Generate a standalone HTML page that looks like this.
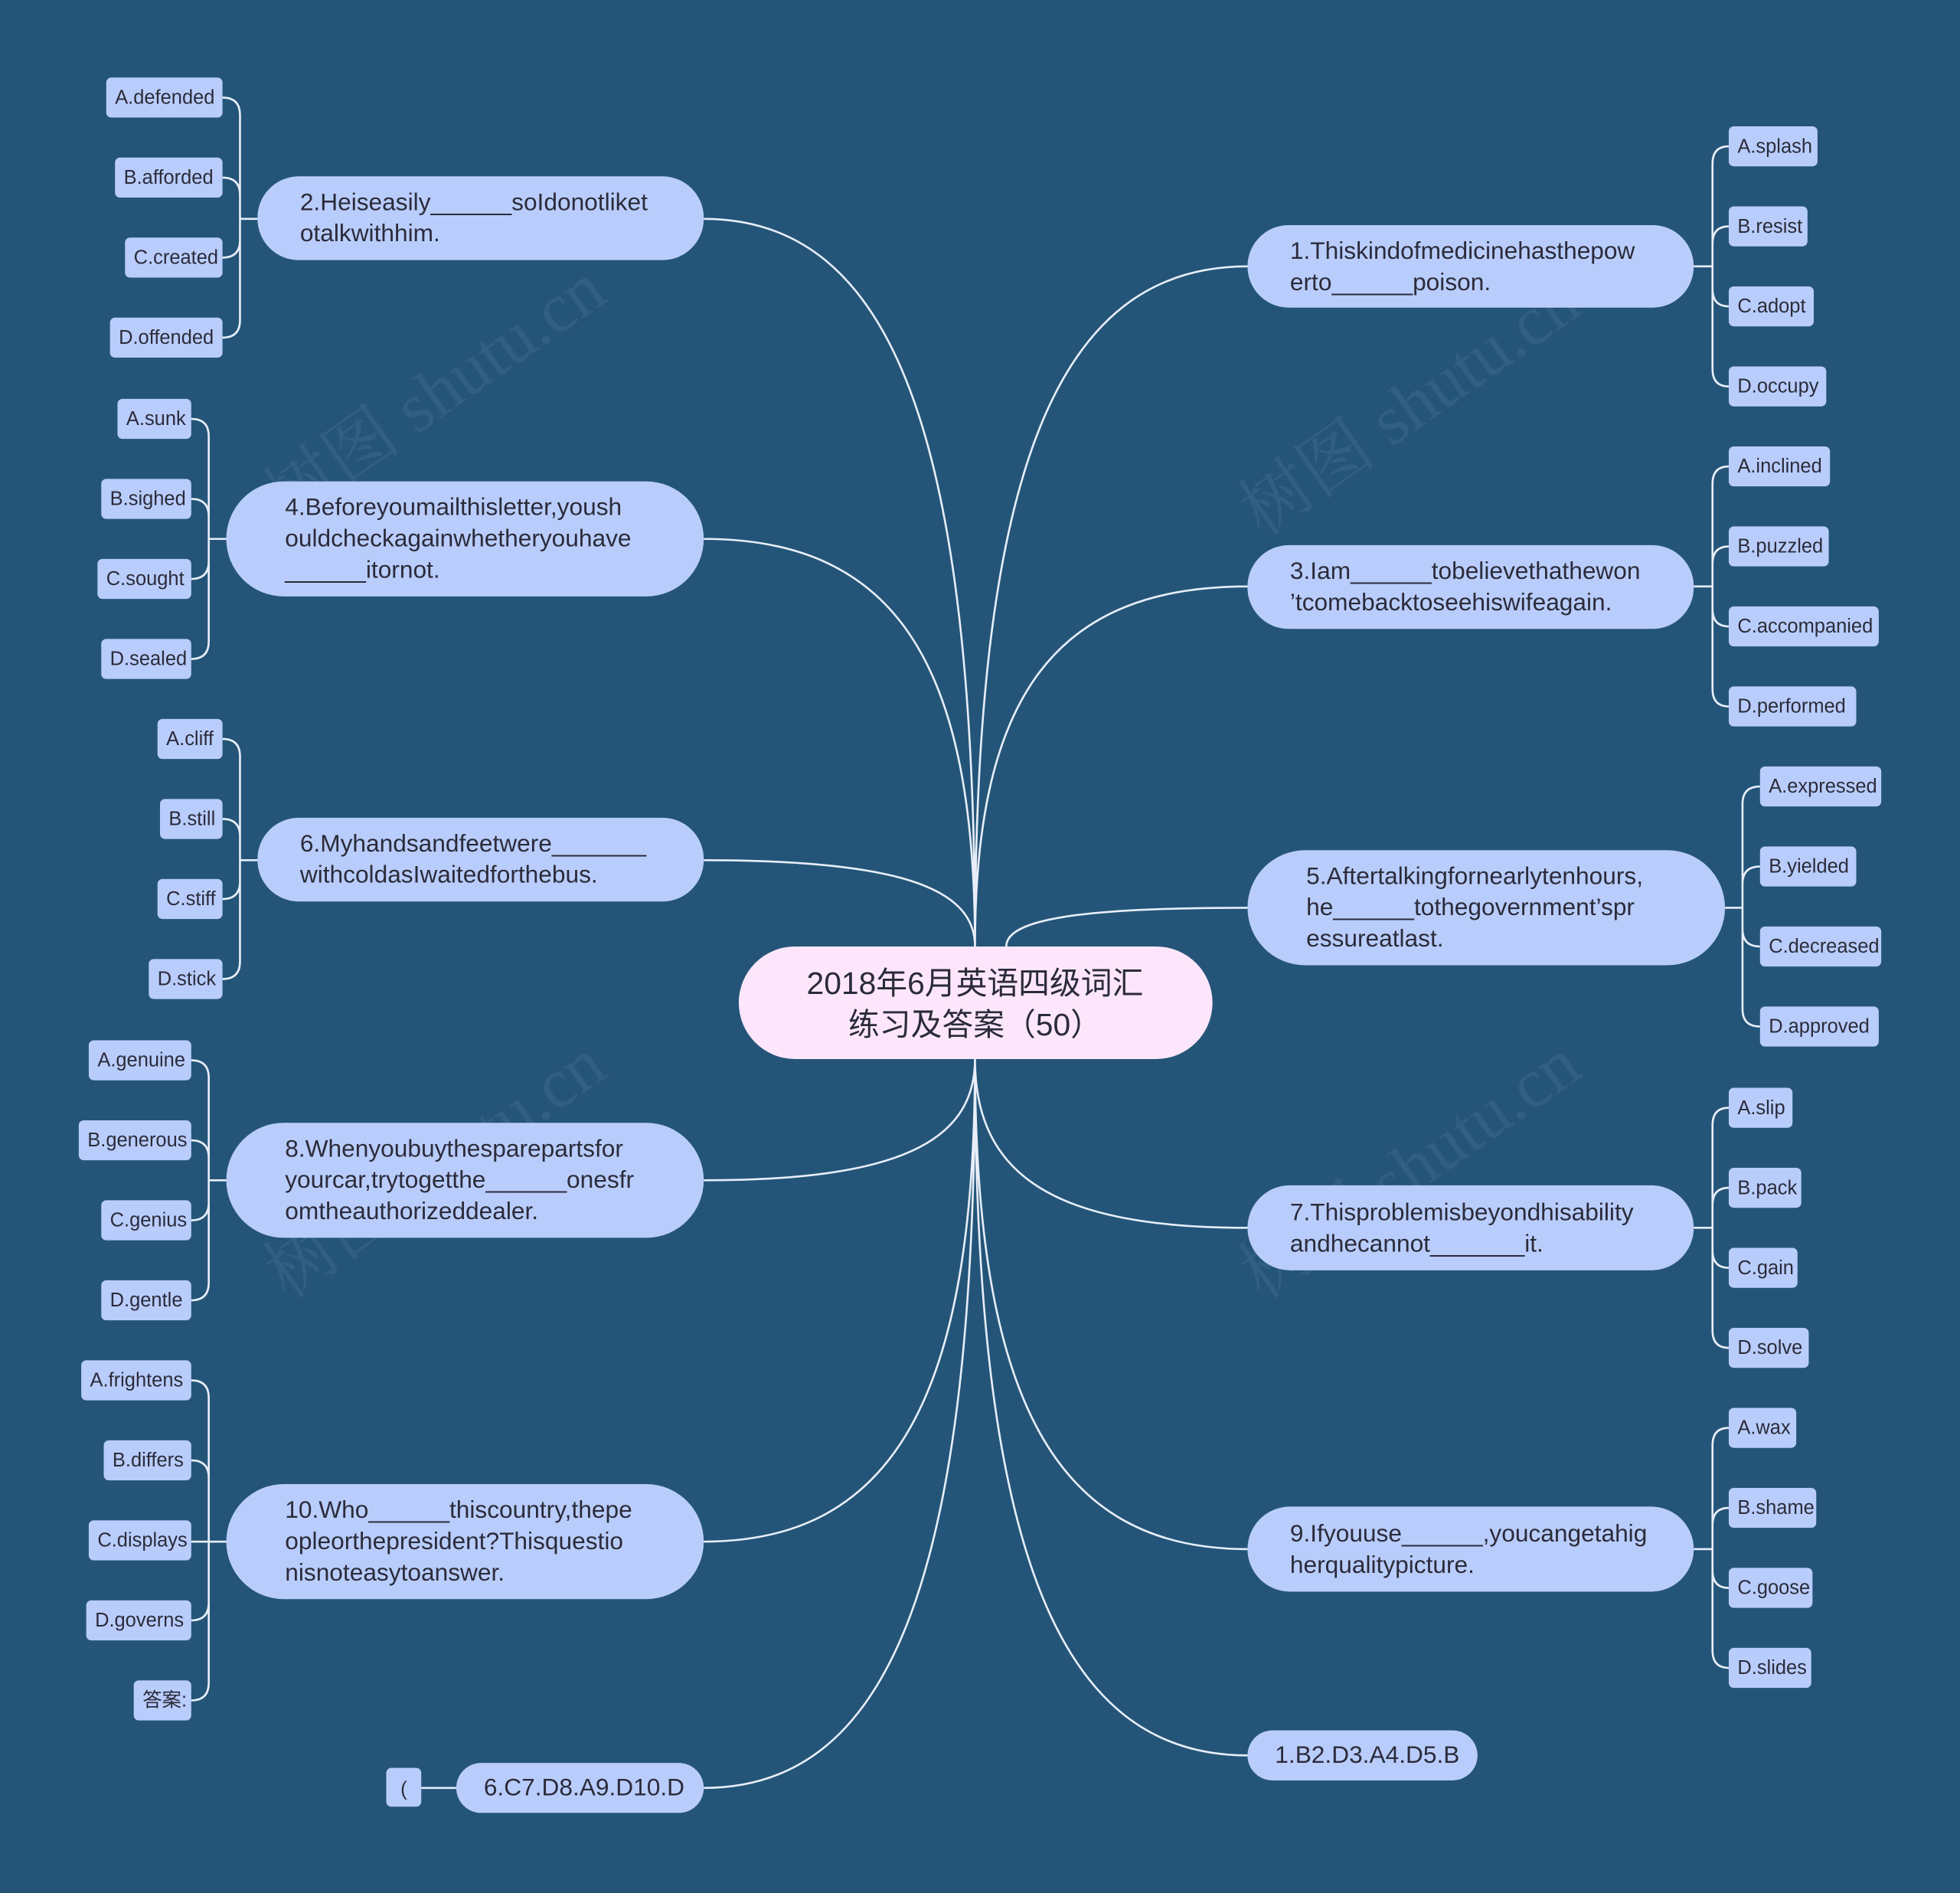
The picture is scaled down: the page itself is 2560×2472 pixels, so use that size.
<!DOCTYPE html>
<html><head><meta charset="utf-8">
<style>
html,body{margin:0;padding:0;background:#245579;}
svg{display:block;}
.leaf{fill:#b9cdfc;}
.lt{font-family:"Liberation Sans","Noto Sans CJK SC",sans-serif;font-size:15.6px;fill:#2b2b3a;}
.br{fill:#b9cdfc;}
.bt{font-family:"Liberation Sans","Noto Sans CJK SC",sans-serif;font-size:19.4px;fill:#2b2b3a;}
.ct{font-family:"Liberation Sans","Noto Sans CJK SC",sans-serif;font-size:25px;fill:#2b2b3a;}
.wm{font-family:"Liberation Serif","Noto Serif CJK SC",serif;font-size:56px;fill:#ffffff;opacity:0.06;}
</style></head>
<body>
<svg id="s" width="2560" height="2472" viewBox="0 0 1568 1514" xmlns="http://www.w3.org/2000/svg">
<rect width="1568" height="1514" fill="#245579"/>
<g id="lines" fill="none" stroke="#e8eef8" stroke-width="1.6"></g>

<text class="wm" transform="translate(230,420) rotate(-35)">树图 shutu.cn</text>
<text class="wm" transform="translate(1010,430) rotate(-35)">树图 shutu.cn</text>
<text class="wm" transform="translate(230,1040) rotate(-35)">树图 shutu.cn</text>
<text class="wm" transform="translate(1010,1040) rotate(-35)">树图 shutu.cn</text>

<rect x="591" y="757" width="379" height="90" rx="45" fill="#fde6fb"/>
<text class="ct" x="780" y="795" text-anchor="middle">2018年6月英语四级词汇</text>
<text class="ct" x="780" y="828" text-anchor="middle">练习及答案（50）</text>

<rect class="br" x="998" y="180" width="357" height="66" rx="33"/>
<text class="bt" x="1032" y="207">1.Thiskindofmedicinehasthepow</text>
<text class="bt" x="1032" y="232">erto______poison.</text>

<rect class="br" x="998" y="436" width="357" height="67" rx="33"/>
<text class="bt" x="1032" y="463">3.Iam______tobelievethathewon</text>
<text class="bt" x="1032" y="488">’tcomebacktoseehiswifeagain.</text>

<rect class="br" x="998" y="680" width="382" height="92" rx="46"/>
<text class="bt" x="1045" y="707">5.Aftertalkingfornearlytenhours,</text>
<text class="bt" x="1045" y="732">he______tothegovernment’spr</text>
<text class="bt" x="1045" y="757">essureatlast.</text>

<rect class="br" x="998" y="948" width="357" height="68" rx="34"/>
<text class="bt" x="1032" y="976">7.Thisproblemisbeyondhisability</text>
<text class="bt" x="1032" y="1001">andhecannot_______it.</text>

<rect class="br" x="998" y="1205" width="357" height="68" rx="34"/>
<text class="bt" x="1032" y="1233">9.Ifyouuse______,youcangetahig</text>
<text class="bt" x="1032" y="1258">herqualitypicture.</text>

<rect class="br" x="998" y="1384" width="184" height="40" rx="20"/>
<text class="bt" x="1020" y="1410">1.B2.D3.A4.D5.B</text>

<rect class="br" x="206" y="141" width="357" height="67" rx="33"/>
<text class="bt" x="240" y="168">2.Heiseasily______soIdonotliket</text>
<text class="bt" x="240" y="193">otalkwithhim.</text>

<rect class="br" x="181" y="385" width="382" height="92" rx="46"/>
<text class="bt" x="228" y="412">4.Beforeyoumailthisletter,yoush</text>
<text class="bt" x="228" y="437">ouldcheckagainwhetheryouhave</text>
<text class="bt" x="228" y="462">______itornot.</text>

<rect class="br" x="206" y="654" width="357" height="67" rx="33"/>
<text class="bt" x="240" y="681">6.Myhandsandfeetwere_______</text>
<text class="bt" x="240" y="706">withcoldasIwaitedforthebus.</text>

<rect class="br" x="181" y="898" width="382" height="92" rx="46"/>
<text class="bt" x="228" y="925">8.Whenyoubuythesparepartsfor</text>
<text class="bt" x="228" y="950">yourcar,trytogetthe______onesfr</text>
<text class="bt" x="228" y="975">omtheauthorizeddealer.</text>

<rect class="br" x="181" y="1187" width="382" height="92" rx="46"/>
<text class="bt" x="228" y="1214">10.Who______thiscountry,thepe</text>
<text class="bt" x="228" y="1239">opleorthepresident?Thisquestio</text>
<text class="bt" x="228" y="1264">nisnoteasytoanswer.</text>

<rect class="br" x="365" y="1410" width="198" height="40" rx="20"/>
<text class="bt" x="387" y="1436">6.C7.D8.A9.D10.D</text>
<rect class="leaf" x="309" y="1414" width="28" height="31" rx="4"/>
<text class="lt" x="323" y="1436" text-anchor="middle">(</text>

<rect class="leaf" x="1383" y="101" width="71" height="32" rx="4"/><text class="lt" x="1390" y="122">A.splash</text>
<rect class="leaf" x="1383" y="165" width="63" height="32" rx="4"/><text class="lt" x="1390" y="186">B.resist</text>
<rect class="leaf" x="1383" y="229" width="68" height="32" rx="4"/><text class="lt" x="1390" y="250">C.adopt</text>
<rect class="leaf" x="1383" y="293" width="78" height="32" rx="4"/><text class="lt" x="1390" y="314">D.occupy</text>
<rect class="leaf" x="1383" y="357" width="81" height="32" rx="4"/><text class="lt" x="1390" y="378">A.inclined</text>
<rect class="leaf" x="1383" y="421" width="80" height="32" rx="4"/><text class="lt" x="1390" y="442">B.puzzled</text>
<rect class="leaf" x="1383" y="485" width="120" height="32" rx="4"/><text class="lt" x="1390" y="506">C.accompanied</text>
<rect class="leaf" x="1383" y="549" width="102" height="32" rx="4"/><text class="lt" x="1390" y="570">D.performed</text>
<rect class="leaf" x="1408" y="613" width="97" height="32" rx="4"/><text class="lt" x="1415" y="634">A.expressed</text>
<rect class="leaf" x="1408" y="677" width="77" height="32" rx="4"/><text class="lt" x="1415" y="698">B.yielded</text>
<rect class="leaf" x="1408" y="741" width="97" height="32" rx="4"/><text class="lt" x="1415" y="762">C.decreased</text>
<rect class="leaf" x="1408" y="805" width="95" height="32" rx="4"/><text class="lt" x="1415" y="826">D.approved</text>
<rect class="leaf" x="1383" y="870" width="51" height="32" rx="4"/><text class="lt" x="1390" y="891">A.slip</text>
<rect class="leaf" x="1383" y="934" width="58" height="32" rx="4"/><text class="lt" x="1390" y="955">B.pack</text>
<rect class="leaf" x="1383" y="998" width="55" height="32" rx="4"/><text class="lt" x="1390" y="1019">C.gain</text>
<rect class="leaf" x="1383" y="1062" width="64" height="32" rx="4"/><text class="lt" x="1390" y="1083">D.solve</text>
<rect class="leaf" x="1383" y="1126" width="54" height="32" rx="4"/><text class="lt" x="1390" y="1147">A.wax</text>
<rect class="leaf" x="1383" y="1190" width="70" height="32" rx="4"/><text class="lt" x="1390" y="1211">B.shame</text>
<rect class="leaf" x="1383" y="1254" width="67" height="32" rx="4"/><text class="lt" x="1390" y="1275">C.goose</text>
<rect class="leaf" x="1383" y="1318" width="66" height="32" rx="4"/><text class="lt" x="1390" y="1339">D.slides</text>

<rect class="leaf" x="85" y="62" width="93" height="32" rx="4"/><text class="lt" x="92" y="83">A.defended</text>
<rect class="leaf" x="92" y="126" width="86" height="32" rx="4"/><text class="lt" x="99" y="147">B.afforded</text>
<rect class="leaf" x="100" y="190" width="78" height="32" rx="4"/><text class="lt" x="107" y="211">C.created</text>
<rect class="leaf" x="88" y="254" width="90" height="32" rx="4"/><text class="lt" x="95" y="275">D.offended</text>
<rect class="leaf" x="94" y="319" width="59" height="32" rx="4"/><text class="lt" x="101" y="340">A.sunk</text>
<rect class="leaf" x="81" y="383" width="72" height="32" rx="4"/><text class="lt" x="88" y="404">B.sighed</text>
<rect class="leaf" x="78" y="447" width="75" height="32" rx="4"/><text class="lt" x="85" y="468">C.sought</text>
<rect class="leaf" x="81" y="511" width="72" height="32" rx="4"/><text class="lt" x="88" y="532">D.sealed</text>
<rect class="leaf" x="126" y="575" width="52" height="32" rx="4"/><text class="lt" x="133" y="596">A.cliff</text>
<rect class="leaf" x="128" y="639" width="50" height="32" rx="4"/><text class="lt" x="135" y="660">B.still</text>
<rect class="leaf" x="126" y="703" width="52" height="32" rx="4"/><text class="lt" x="133" y="724">C.stiff</text>
<rect class="leaf" x="119" y="767" width="59" height="32" rx="4"/><text class="lt" x="126" y="788">D.stick</text>
<rect class="leaf" x="71" y="832" width="82" height="32" rx="4"/><text class="lt" x="78" y="853">A.genuine</text>
<rect class="leaf" x="63" y="896" width="90" height="32" rx="4"/><text class="lt" x="70" y="917">B.generous</text>
<rect class="leaf" x="81" y="960" width="72" height="32" rx="4"/><text class="lt" x="88" y="981">C.genius</text>
<rect class="leaf" x="81" y="1024" width="72" height="32" rx="4"/><text class="lt" x="88" y="1045">D.gentle</text>
<rect class="leaf" x="65" y="1088" width="88" height="32" rx="4"/><text class="lt" x="72" y="1109">A.frightens</text>
<rect class="leaf" x="83" y="1152" width="70" height="32" rx="4"/><text class="lt" x="90" y="1173">B.differs</text>
<rect class="leaf" x="71" y="1216" width="82" height="32" rx="4"/><text class="lt" x="78" y="1237">C.displays</text>
<rect class="leaf" x="69" y="1280" width="84" height="32" rx="4"/><text class="lt" x="76" y="1301">D.governs</text>
<rect class="leaf" x="107" y="1344" width="46" height="32" rx="4"/><text class="lt" x="114" y="1365">答案:</text>
</svg>
<script>
(function(){
var g=document.getElementById('lines');var d='';
function main(sx,sy,tx,ty){
  d+='M'+sx+','+sy+' C'+sx+','+(ty+(sy-ty)*0.3)+' '+(sx+(tx-sx)*0.3)+','+ty+' '+tx+','+ty+' ';
}
main(780,757,998,213);main(780,757,998,469);main(805,757,998,726);
main(780,847,998,982);main(780,847,998,1239);main(780,847,998,1404);
main(780,757,563,175);main(780,757,563,431);main(780,757,563,688);
main(780,847,563,944);main(780,847,563,1233);main(780,847,563,1430);
d+='M337,1430 H365 ';
function br(xe,ym,bx,lx,tops){
  d+='M'+xe+','+ym+' H'+bx+' ';
  var s=lx>bx?1:-1;var r=14;
  tops.forEach(function(t){
    var ly=t+16;
    if(Math.abs(ly-ym)<7){d+='M'+bx+','+ym+' H'+lx+' ';return;}
    var dir=ly>ym?1:-1;
    d+='M'+bx+','+ym+' V'+(ly-dir*r)+' Q'+bx+','+ly+' '+(bx+s*Math.min(r,Math.abs(lx-bx)))+','+ly+' H'+lx+' ';
  });
}
br(1355,213,1370,1383,[101,165,229,293]);
br(1355,469,1370,1383,[357,421,485,549]);
br(1380,726,1394,1408,[613,677,741,805]);
br(1355,982,1370,1383,[870,934,998,1062]);
br(1355,1239,1370,1383,[1126,1190,1254,1318]);
br(206,175,192,178,[62,126,190,254]);
br(181,431,167,153,[319,383,447,511]);
br(206,688,192,178,[575,639,703,767]);
br(181,944,167,153,[832,896,960,1024]);
br(181,1233,167,153,[1088,1152,1216,1280,1344]);
var p=document.createElementNS('http://www.w3.org/2000/svg','path');
p.setAttribute('d',d);g.appendChild(p);
})();
</script>
</body></html>
